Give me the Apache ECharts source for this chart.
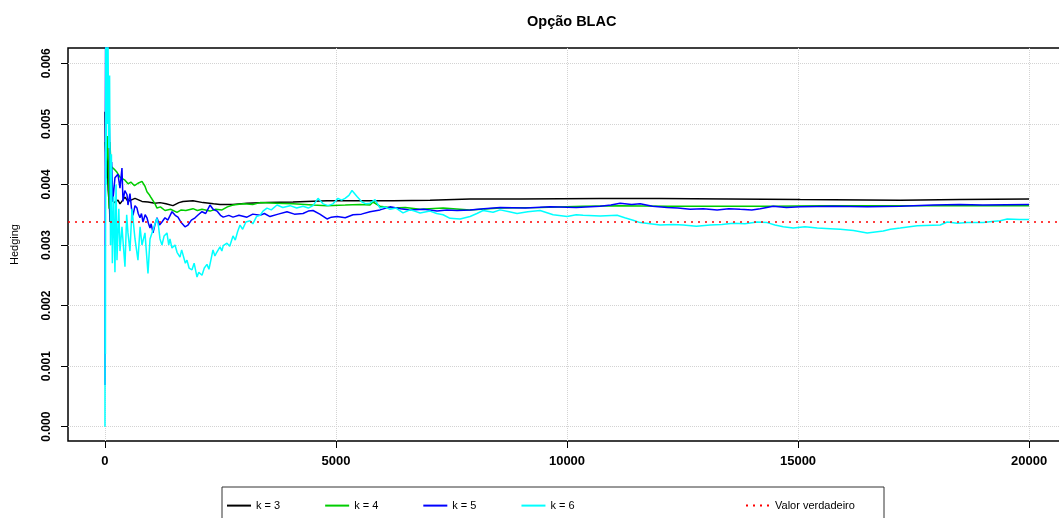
<!DOCTYPE html>
<html>
<head>
<meta charset="utf-8">
<script src="https://cdn.jsdelivr.net/npm/echarts@6/dist/echarts.min.js"></script>
<style>
html, body { margin: 0; padding: 0; background: #fff; }
#main { width: 1059px; height: 518px; }
</style>
</head>
<body>
<div id="main"></div>
<script>
var xTicks = [0, 5000, 10000, 15000, 20000];
var yTicks = [0, 0.001, 0.002, 0.003, 0.004, 0.005, 0.006];
var trueValue = 0.00338;

// k = 3
var k3Data = [[1, 0.0052], [20, 0.0041], [40, 0.0046], [70, 0.0039], [100, 0.0036], [108, 0.00338], [115, 0.00378],
    [200, 0.0037], [281, 0.00374], [325, 0.00368], [433, 0.00379], [498, 0.00372], [650, 0.00377], [801, 0.00372],
    [931, 0.00371], [1083, 0.00369], [1191, 0.0037], [1320, 0.00368], [1472, 0.00365], [1600, 0.0037], [1689, 0.00372],
    [1905, 0.00373], [2122, 0.0037], [2350, 0.00368], [2490, 0.00367], [2771, 0.00367], [3074, 0.00369], [3507, 0.0037],
    [4070, 0.00371], [4806, 0.00373], [5520, 0.00373], [6235, 0.00373], [7036, 0.00374], [7902, 0.00376], [9000, 0.00376],
    [10717, 0.00377], [12000, 0.00377], [13500, 0.00376], [15048, 0.00375], [17212, 0.00374], [18500, 0.00375], [20000, 0.00376]];

// k = 4
var k4Data = [[1, 0.0047], [30, 0.0044], [60, 0.0048], [90, 0.0036], [108, 0.0047], [130, 0.0043], [152, 0.00427],
    [216, 0.00424], [260, 0.0042], [325, 0.00412], [433, 0.00407], [500, 0.00401], [560, 0.00404], [640, 0.00398],
    [714, 0.00402], [801, 0.00405], [866, 0.00397], [909, 0.00388], [960, 0.00383], [1000, 0.00378], [1083, 0.00368],
    [1126, 0.00361], [1200, 0.00363], [1300, 0.00357], [1420, 0.00359], [1559, 0.00354], [1650, 0.00358],
    [1750, 0.00357], [1905, 0.0036], [2000, 0.00357], [2100, 0.00359], [2273, 0.00356], [2400, 0.00359], [2533, 0.00358],
    [2650, 0.00363], [2771, 0.00366], [3000, 0.00368], [3200, 0.00367], [3356, 0.0037], [3700, 0.00369], [4070, 0.00368],
    [4500, 0.00366], [4806, 0.00365], [5200, 0.00366], [5520, 0.00367], [5736, 0.00366], [5801, 0.00371], [5953, 0.00364],
    [6235, 0.00361], [6500, 0.00362], [6820, 0.00359], [7318, 0.00361], [7902, 0.00358], [8552, 0.00361], [9418, 0.00362],
    [10349, 0.00364], [11150, 0.00365], [12168, 0.00364], [13500, 0.00364], [14463, 0.00364], [15500, 0.00365],
    [17212, 0.00365], [19000, 0.00365], [20000, 0.00365]];

// k = 5
var k5Data = [[1, 0.00069], [8, 0.0048], [15, 0.0068], [30, 0.0055], [45, 0.0066], [60, 0.005], [80, 0.0056], [100, 0.0047],
    [115, 0.0034], [145, 0.00437], [170, 0.00372], [216, 0.00411], [281, 0.00417], [325, 0.00394], [368, 0.00427],
    [390, 0.00372], [430, 0.0039], [477, 0.00383], [498, 0.00366], [541, 0.00385], [575, 0.0036], [606, 0.00349],
    [650, 0.00365], [693, 0.00361], [720, 0.00352], [758, 0.00345], [790, 0.00352], [823, 0.00338], [870, 0.0035],
    [909, 0.00345], [940, 0.00336], [975, 0.00328], [1000, 0.00335], [1040, 0.0032], [1080, 0.00333], [1126, 0.00345],
    [1180, 0.00333], [1234, 0.00338], [1299, 0.00345], [1360, 0.00341], [1451, 0.00355], [1520, 0.00349], [1580, 0.00346],
    [1650, 0.00337], [1732, 0.0033], [1797, 0.00333], [1870, 0.00341], [1950, 0.00345], [2020, 0.0035], [2100, 0.00355],
    [2180, 0.00352], [2273, 0.00366], [2340, 0.00359], [2425, 0.00356], [2500, 0.00349], [2560, 0.00346], [2680, 0.00349],
    [2771, 0.00346], [2900, 0.00349], [3074, 0.00346], [3200, 0.00351], [3356, 0.00349], [3450, 0.00352], [3572, 0.00347],
    [3750, 0.00351], [3940, 0.00355], [4100, 0.00351], [4287, 0.00352], [4400, 0.00356], [4503, 0.00357], [4650, 0.00351],
    [4806, 0.00343], [4900, 0.00346], [5022, 0.00347], [5200, 0.00345], [5369, 0.0035], [5550, 0.00351], [5736, 0.00355],
    [5953, 0.00358], [6170, 0.00363], [6400, 0.0036], [6603, 0.00358], [6900, 0.00359], [7188, 0.00356], [7400, 0.00358],
    [7621, 0.00357], [7902, 0.00358], [8200, 0.0036], [8552, 0.00362], [9100, 0.00361], [9635, 0.00363], [10200, 0.00362],
    [10717, 0.00364], [10950, 0.00366], [11150, 0.00369], [11400, 0.00367], [11583, 0.00368], [11850, 0.00364],
    [12168, 0.00362], [12400, 0.00361], [12665, 0.00359], [12950, 0.0036], [13250, 0.00358], [13500, 0.0036],
    [13748, 0.00359], [14000, 0.00358], [14182, 0.0036], [14463, 0.00364], [14750, 0.00362], [15048, 0.00363],
    [15762, 0.00364], [16500, 0.00363], [17212, 0.00364], [17926, 0.00366], [18500, 0.00367], [19000, 0.00366],
    [20000, 0.00367]];

// k = 6
var k6Data = [[0, 0.0], [5, 0.003], [10, 0.0012], [18, 0.0065], [25, 0.004], [35, 0.007], [50, 0.005], [65, 0.0066],
    [80, 0.0046], [100, 0.0058], [120, 0.003], [140, 0.0045], [160, 0.0027], [190, 0.0038], [216, 0.00255], [240, 0.004],
    [260, 0.00275], [300, 0.0036], [325, 0.0029], [368, 0.0033], [433, 0.00264], [470, 0.0035], [498, 0.0032], [541, 0.0029],
    [585, 0.0036], [650, 0.0031], [714, 0.00275], [760, 0.0033], [801, 0.003], [866, 0.0032], [931, 0.00253], [975, 0.0031],
    [1018, 0.0032], [1083, 0.00335], [1126, 0.00344], [1160, 0.0033], [1191, 0.0031], [1234, 0.003], [1280, 0.00315],
    [1342, 0.0032], [1380, 0.003], [1407, 0.0031], [1450, 0.00295], [1516, 0.003], [1560, 0.00288], [1624, 0.0028],
    [1660, 0.00292], [1700, 0.0029], [1740, 0.0027], [1775, 0.00275], [1820, 0.00262], [1884, 0.00259], [1930, 0.0027],
    [1992, 0.00247], [2030, 0.00255], [2060, 0.00258], [2100, 0.0025], [2150, 0.00262], [2208, 0.00268], [2250, 0.0026],
    [2300, 0.00278], [2338, 0.00292], [2380, 0.00282], [2420, 0.00288], [2490, 0.00297], [2530, 0.0029], [2560, 0.00299],
    [2641, 0.00303], [2700, 0.00298], [2771, 0.00315], [2820, 0.00308], [2870, 0.00322], [2923, 0.00333], [2980, 0.00326],
    [3050, 0.00338], [3139, 0.0034], [3200, 0.00335], [3280, 0.00347], [3356, 0.00349], [3420, 0.00356], [3507, 0.00361],
    [3600, 0.00358], [3724, 0.00366], [3850, 0.00362], [4005, 0.00365], [4150, 0.00361], [4287, 0.00364], [4400, 0.00361],
    [4503, 0.00365], [4611, 0.00377], [4720, 0.00368], [4830, 0.00365], [4936, 0.00368], [5044, 0.00377], [5120, 0.00374],
    [5196, 0.00377], [5280, 0.00382], [5347, 0.0039], [5455, 0.0038], [5563, 0.00371], [5650, 0.00368], [5736, 0.00369],
    [5845, 0.00375], [5953, 0.00361], [6050, 0.00363], [6170, 0.00359], [6300, 0.00361], [6451, 0.00353], [6603, 0.00358],
    [6700, 0.00356], [6820, 0.00353], [7036, 0.00356], [7180, 0.00352], [7318, 0.0035], [7469, 0.00344], [7686, 0.00343],
    [7902, 0.00347], [8050, 0.00352], [8184, 0.00357], [8400, 0.00354], [8552, 0.00358], [8750, 0.00355], [8920, 0.00352],
    [9150, 0.00355], [9418, 0.00357], [9700, 0.0035], [10003, 0.00347], [10200, 0.0035], [10349, 0.00349], [10717, 0.00348],
    [11085, 0.00349], [11250, 0.00345], [11431, 0.00341], [11583, 0.00337], [11800, 0.00335], [12016, 0.00333],
    [12300, 0.00334], [12514, 0.00333], [12800, 0.00331], [13099, 0.00333], [13350, 0.00334], [13597, 0.00336],
    [13850, 0.00335], [14117, 0.00338], [14333, 0.00337], [14500, 0.00333], [14680, 0.0033], [14896, 0.00328],
    [15150, 0.0033], [15416, 0.00328], [15700, 0.00327], [15914, 0.00326], [16200, 0.00324], [16498, 0.0032],
    [16844, 0.00323], [17000, 0.00326], [17212, 0.00328], [17580, 0.00332], [18078, 0.00333], [18229, 0.00338],
    [18450, 0.00336], [18662, 0.00337], [19009, 0.00337], [19200, 0.00339], [19377, 0.0034], [19528, 0.00343],
    [19800, 0.00342], [20000, 0.00342]];

var myChart = echarts.init(document.getElementById('main'));

function lineSeries(name, color, data) {
    return {
        name: name,
        type: 'line',
        data: data,
        symbol: 'none',
        color: color,
        lineStyle: { color: color, width: 1.5 },
        animation: false
    };
}

var k6Series = lineSeries('k = 6', '#00FFFF', k6Data);
// linha do valor verdadeiro (abline)
k6Series.markLine = {
    silent: true,
    symbol: 'none',
    precision: 6,
    label: { show: false },
    lineStyle: { color: '#FF0000', width: 1.5, type: [2, 5] },
    data: [{ yAxis: trueValue }]
};

var option = {
    animation: false,
    title: {
        text: 'Opção BLAC',
        left: 522,
        top: 9,
        textStyle: { fontFamily: 'Liberation Sans', fontSize: 14.5, fontWeight: 'bold', color: '#000' }
    },
    grid: {
        left: 68, top: 48, width: 998, height: 393,
        outerBoundsMode: 'none',
        show: true, borderColor: '#000', borderWidth: 1.5, backgroundColor: 'transparent'
    },
    legend: [
        {
            data: ['k = 3', 'k = 4', 'k = 5', 'k = 6'],
            left: 226, top: 500, padding: 0, itemWidth: 24, itemHeight: 14, itemGap: 44,
            itemStyle: { opacity: 0 },
            textStyle: { fontFamily: 'Liberation Sans', fontSize: 11, color: '#000' },
            selectedMode: false
        },
        {
            data: ['Valor verdadeiro'],
            left: 745, top: 500, padding: 0, itemWidth: 24, itemHeight: 14,
            itemStyle: { opacity: 0 },
            textStyle: { fontFamily: 'Liberation Sans', fontSize: 11, color: '#000' },
            selectedMode: false
        }
    ],
    graphic: [
        {
            type: 'rect',
            shape: { x: 222, y: 487, width: 662, height: 40 },
            style: { fill: 'none', stroke: '#333', lineWidth: 1 },
            silent: true
        }
    ],
    xAxis: {
        type: 'value',
        min: -800, max: 20800,
        axisLine: { show: false, onZero: false },
        axisTick: { show: true, length: 7, customValues: xTicks, lineStyle: { color: '#000', width: 1 } },
        axisLabel: {
            customValues: xTicks, margin: 14,
            fontFamily: 'Liberation Sans', fontSize: 13, fontWeight: 'bold', color: '#000',
            formatter: function (v) { return String(v); }
        },
        splitLine: { show: true, lineStyle: { color: '#d3d3d3', type: 'dotted', width: 1 } }
    },
    yAxis: {
        type: 'value',
        min: -0.000236, max: 0.006253,
        name: 'Hedging', nameLocation: 'middle', nameGap: 48, nameRotate: 90,
        nameTextStyle: { fontFamily: 'Liberation Sans', fontSize: 11, color: '#000' },
        axisLine: { show: false, onZero: false },
        axisTick: { show: true, length: 7, customValues: yTicks, lineStyle: { color: '#000', width: 1 } },
        axisLabel: {
            customValues: yTicks, rotate: 90, margin: 15,
            fontFamily: 'Liberation Sans', fontSize: 12, fontWeight: 'bold', color: '#000',
            formatter: function (v) { return v.toFixed(3); }
        },
        splitLine: { show: true, lineStyle: { color: '#d3d3d3', type: 'dotted', width: 1 } }
    },
    series: [
        lineSeries('k = 3', '#000000', k3Data),
        lineSeries('k = 4', '#00CD00', k4Data),
        lineSeries('k = 5', '#0000FF', k5Data),
        k6Series,
        {
            name: 'Valor verdadeiro',
            type: 'line',
            data: [],
            symbol: 'none',
            color: '#FF0000',
            lineStyle: { color: '#FF0000', width: 1.5, type: [2, 5] }
        }
    ]
};
myChart.setOption(option);
</script>
</body>
</html>
